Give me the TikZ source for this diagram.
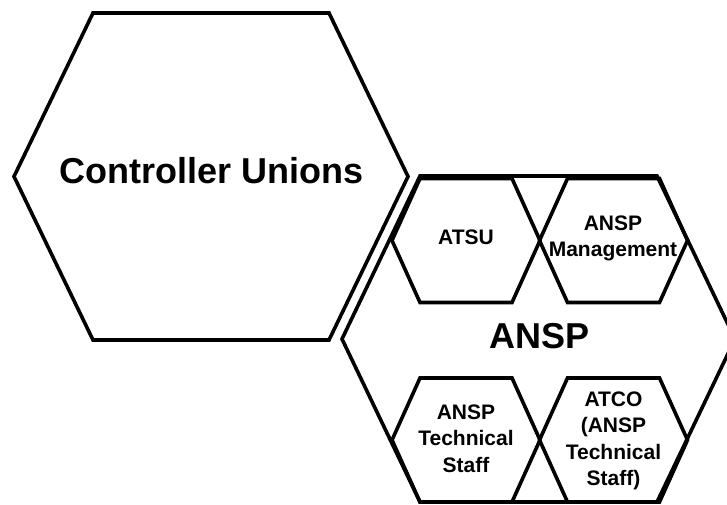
\documentclass[tikz,border=0pt]{standalone}
\usepackage{fontspec}
\setmainfont{Liberation Sans}
\begin{document}
\begin{tikzpicture}[x=1pt,y=-1pt,
  hexline/.style={draw=black,line width=3.6pt,line join=miter},
  bigtext/.style={font=\fontsize{36}{40}\selectfont\bfseries,inner sep=0pt},
  smalltext/.style={font=\fontsize{21}{26.5}\selectfont\bfseries,align=center,inner sep=0pt}]
\newcommand{\myhex}[5]{%
  \draw[hexline] ({#1-#3},{#2}) -- ({#1-#3+#5},{#2-#4}) -- ({#1+#3-#5},{#2-#4})
    -- ({#1+#3},{#2}) -- ({#1+#3-#5},{#2+#4}) -- ({#1-#3+#5},{#2+#4}) -- cycle;}
\useasboundingbox (0,0) rectangle (727,505);
\clip (0,0) rectangle (727,505);
% Controller Unions
\myhex{211}{176.5}{197}{163.5}{79}
\node[bigtext] (cu) at (211.5,171) {Controller Unions};
% ANSP outer
\myhex{538.5}{339}{196.5}{163}{78}
\node[bigtext] (ansp) at (540,336) {ANSP};
% inner hexagons
\myhex{466}{240.5}{74}{62}{28}
\myhex{613.5}{240.5}{74}{62}{28}
\myhex{466}{440}{74}{62}{28}
\myhex{613.5}{440}{74}{62}{28}
\node[smalltext] (atsu) at (466,237) {ATSU};
\node[smalltext] (mgmt) at (613,238.5) {ANSP\\Management};
\node[smalltext] (tech) at (466,438.5) {ANSP\\Technical\\Staff};
\node[smalltext] (atco) at (613.5,441) {ATCO\\(ANSP\\Technical\\Staff)};
\end{tikzpicture}
\end{document}
